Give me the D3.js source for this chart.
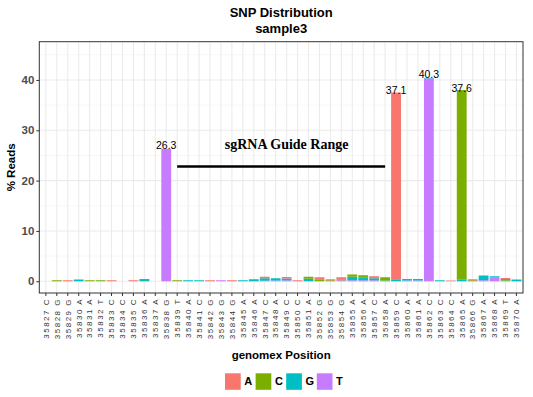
<html>
<head>
<script src="https://d3js.org/d3.v7.min.js"></script>
<style>
body { margin: 0; background: #fff; }
text { font-family: "Liberation Sans", Arial, sans-serif; }
</style>
</head>
<body>
<svg width="533" height="397"></svg>
<script>
// genomic positions and reference bases
var positions = [35827,35828,35829,35830,35831,35832,35833,35834,35835,35836,35837,
  35838,35839,35840,35841,35842,35843,35844,35845,35846,35847,35848,35849,35850,
  35851,35852,35853,35854,35855,35856,35857,35858,35859,35860,35861,35862,35863,
  35864,35865,35866,35867,35868,35869,35870];
var refBases = ["C","G","G","A","A","T","C","C","C","A","A","G","T","A","C","G","G","G",
  "A","A","C","A","C","C","A","G","G","G","A","A","C","A","C","A","A","C","C","C",
  "A","G","A","A","T","A"];

// % reads per alternate base
var readsA = [0,0,0.2,0,0,0,0.2,0,0.2,0,0,0,0,0,0,0.2,0,0.2,0,0,0.3,0,0.3,0.2,
  0,0.4,0.2,0.4,0,0,0.4,0,37.1,0,0,0,0,0.15,0,0.2,0,0,0.2,0];
var readsC = [0,0.2,0,0,0.2,0.2,0,0,0,0.2,0,0,0.2,0,0,0,0,0,0,0,0,0,0,0,
  0.4,0.4,0.2,0.2,0.45,0.4,0,0.65,0,0,0,0,0,0,37.6,0.2,0,0,0.3,0];
var readsG = [0,0,0,0.35,0,0,0,0,0,0.25,0,0,0,0.2,0.2,0,0,0,0.2,0.4,0.5,0.45,0.35,0,
  0.5,0,0,0,0.7,0.6,0.4,0.15,0.4,0.3,0.3,0.1,0.2,0,0.4,0,0.95,0.2,0.15,0.35];
var readsT = [0,0,0,0,0,0,0,0,0,0,0,26.3,0,0,0,0,0.2,0,0,0,0.1,0.15,0.2,0,
  0,0,0,0.2,0.2,0.2,0.2,0,0,0.15,0.15,40.3,0,0,0,0,0.2,0.8,0,0];

var bases = ["A","C","G","T"];
var baseColors = ["#F8766D","#7CAE00","#00BFC4","#C77CFF"];
var yTicks = [0,10,20,30,40];
var yMinor = [5,15,25,35,45];

// guide annotation
var guideLabel = "sgRNA Guide Range";
var guideStart = 35839, guideEnd = 35858, guideY = 22.8;
var guideLabelPos = 35849, guideLabelY = 26.3;

var rows = positions.map(function(p, i) {
  return {pos: p, ref: refBases[i], A: readsA[i], C: readsC[i], G: readsG[i], T: readsT[i]};
});

var svg = d3.select("svg");
var pLeft = 39.3, pRight = 523, pTop = 41.7, pBottom = 293;

var x = d3.scaleBand().domain(positions).range([pLeft, pRight])
  .paddingInner(0.1).paddingOuter(0.15);
var y = d3.scaleLinear().domain([-2.33, 47.6]).range([pBottom, pTop]);
var color = d3.scaleOrdinal().domain(bases).range(baseColors);
function xc(p) { return x(p) + x.bandwidth() / 2; }

// panel + grid
svg.append("rect").attr("x", pLeft).attr("y", pTop)
  .attr("width", pRight - pLeft).attr("height", pBottom - pTop).attr("fill", "#fff");
var grid = svg.append("g");
grid.selectAll(".minor").data(yMinor).enter().append("line")
  .attr("x1", pLeft).attr("x2", pRight)
  .attr("y1", d => y(d)).attr("y2", d => y(d))
  .attr("stroke", "#f2f2f2").attr("stroke-width", 0.6);
grid.selectAll(".major").data(yTicks).enter().append("line")
  .attr("x1", pLeft).attr("x2", pRight)
  .attr("y1", d => y(d)).attr("y2", d => y(d))
  .attr("stroke", "#ebebeb").attr("stroke-width", 1.1);
grid.selectAll(".vx").data(positions).enter().append("line")
  .attr("x1", d => xc(d)).attr("x2", d => xc(d))
  .attr("y1", pTop).attr("y2", pBottom)
  .attr("stroke", "#ebebeb").attr("stroke-width", 1.1);

// stacked bars, T at bottom, A on top
var stack = d3.stack().keys(["T","G","C","A"]);
var layers = stack(rows);
svg.append("g").selectAll("g").data(layers).enter().append("g")
  .attr("fill", d => color(d.key))
  .selectAll("rect").data(d => d.filter(s => s[1] - s[0] > 0)).enter().append("rect")
  .attr("x", d => x(d.data.pos))
  .attr("width", x.bandwidth())
  .attr("y", d => y(d[1]))
  .attr("height", d => y(d[0]) - y(d[1]));

// value labels for big variants
var labels = [];
rows.forEach(function(r) {
  bases.forEach(function(b) { if (r[b] > 5) labels.push({pos: r.pos, v: r[b]}); });
});
svg.append("g").selectAll("text").data(labels).enter().append("text")
  .attr("x", d => xc(d.pos)).attr("y", d => y(d.v) - 0.3)
  .attr("text-anchor", "middle").attr("font-size", "10.5px").attr("fill", "#000")
  .text(d => d3.format(".1f")(d.v));

// guide range
svg.append("line")
  .attr("x1", xc(guideStart)).attr("x2", xc(guideEnd))
  .attr("y1", y(guideY)).attr("y2", y(guideY))
  .attr("stroke", "#000").attr("stroke-width", 2.5);
svg.append("text").attr("x", xc(guideLabelPos)).attr("y", y(guideLabelY))
  .attr("text-anchor", "middle")
  .style("font-family", "'Liberation Serif', 'Times New Roman', serif")
  .style("font-weight", "bold").style("font-size", "14px")
  .text(guideLabel);

// panel border
svg.append("rect").attr("x", pLeft).attr("y", pTop)
  .attr("width", pRight - pLeft).attr("height", pBottom - pTop)
  .attr("fill", "none").attr("stroke", "#333").attr("stroke-width", 1);

// axes
var yAxis = d3.axisLeft(y).tickValues(yTicks).tickSize(3).tickPadding(2);
var gy = svg.append("g").attr("transform", "translate(" + pLeft + ",0)").call(yAxis);
gy.select(".domain").remove();
gy.selectAll("line").attr("stroke", "#333");
gy.selectAll("text").attr("fill", "#4d4d4d").style("font-size", "11.5px").style("font-weight", "bold");

var refOf = {};
rows.forEach(r => refOf[r.pos] = r.ref);
var xAxis = d3.axisBottom(x).tickSize(3).tickFormat(d => d + " " + refOf[d]);
var gx = svg.append("g").attr("transform", "translate(0," + pBottom + ")").call(xAxis);
gx.select(".domain").remove();
gx.selectAll("line").attr("stroke", "#333");
gx.selectAll("text")
  .attr("transform", "rotate(-90)")
  .attr("x", -5).attr("y", 0).attr("dy", "0.35em")
  .attr("text-anchor", "end")
  .attr("fill", "#333")
  .style("font-size", "8px").style("letter-spacing", "1.5px");

// titles
svg.append("text").attr("x", (pLeft + pRight) / 2).attr("y", 17.3).attr("text-anchor", "middle")
  .style("font-weight", "bold").style("font-size", "13px").text("SNP Distribution");
svg.append("text").attr("x", (pLeft + pRight) / 2).attr("y", 32.5).attr("text-anchor", "middle")
  .style("font-weight", "bold").style("font-size", "13px").text("sample3");
svg.append("text").attr("x", (pLeft + pRight) / 2).attr("y", 358.5).attr("text-anchor", "middle")
  .style("font-weight", "bold").style("font-size", "11.5px").text("genomex Position");
svg.append("text").attr("transform", "translate(15," + ((pTop + pBottom) / 2) + ") rotate(-90)")
  .attr("text-anchor", "middle")
  .style("font-weight", "bold").style("font-size", "11.5px").text("% Reads");

// legend
var lg = svg.append("g").attr("transform", "translate(225,373.3)");
var items = lg.selectAll("g").data(bases).enter().append("g")
  .attr("transform", (d, i) => "translate(" + (i * 30.6) + ",0)");
items.append("rect").attr("width", 15.7).attr("height", 16.5).attr("fill", d => color(d));
items.append("text").attr("x", 19.3).attr("y", 12.2)
  .style("font-weight", "bold").style("font-size", "11px").text(d => d);
</script>
</body>
</html>
